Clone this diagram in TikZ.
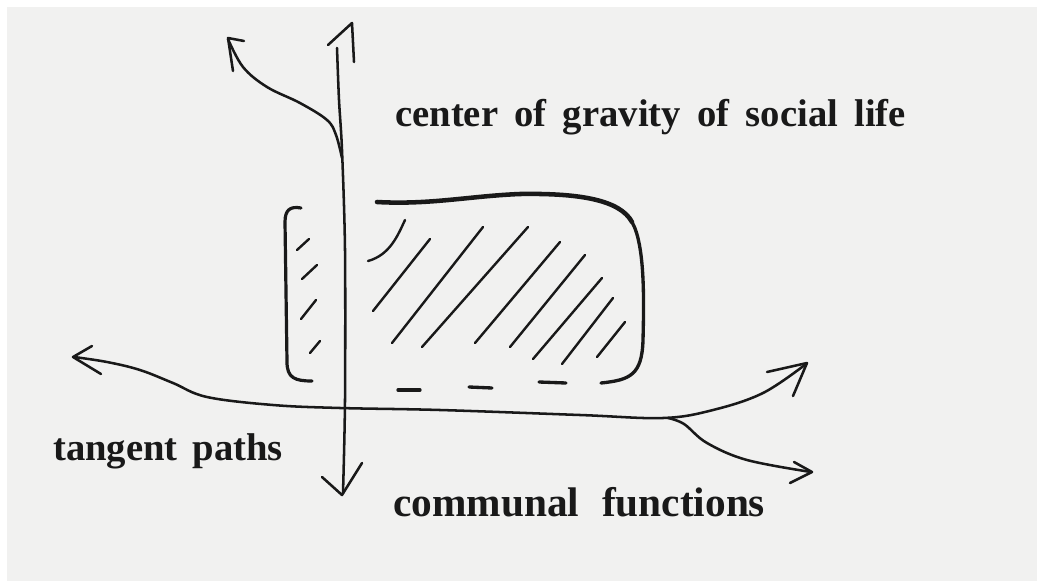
\documentclass[tikz,border=0pt]{standalone}
\usepackage{fontspec}
\setmainfont{Liberation Serif}
\definecolor{bg}{RGB}{241,241,240}
\definecolor{ink}{RGB}{25,25,25}
\begin{document}
\begin{tikzpicture}[x=0.75pt,y=-0.75pt,line cap=round,line join=round,
  pen/.style={draw=ink,line width=1.9pt},
  heavypen/.style={draw=ink,line width=3.4pt},
  hatch/.style={draw=ink,line width=1.8pt},
  lbl/.style={inner sep=0pt,anchor=base west,text=ink,font=\fontsize{29}{32}\selectfont\bfseries}]
\fill[white] (0,0) rectangle (1037,581);
\fill[bg] (7,7) rectangle (1037,581);
\useasboundingbox (0,0) rectangle (1037,581);

% vertical axis
\draw[pen] plot[smooth,tension=0.5] coordinates {(337,48) (339,100) (342,150) (345,250) (345,400) (343,493)};
\draw[pen] (328,45) -- (352,23) -- (354,62);
\draw[pen] (322,477) -- (342,495) -- (362,463);
% upper-left branch
\draw[pen] plot[smooth,tension=0.6] coordinates {(342,158) (336,135) (327,120) (300,103) (267,87) (243,67) (228,39)};
\draw[pen] (244,41) -- (228,38) -- (233,71);

% horizontal axis
\draw[pen] plot[smooth,tension=0.6] coordinates {(74,357) (107,362) (140,370) (173,383) (207,397) (273,405) (340,408) (440,410) (580,415) (663,418) (713,410) (763,393) (806,364)};
\draw[pen] (92,346) -- (73,357) -- (101,374);
\draw[pen] (767,372) -- (807,363) -- (793,396);
% lower-right branch
\draw[pen] plot[smooth,tension=0.6] coordinates {(668,418) (684,424) (707,443) (747,460) (811,472)};
\draw[pen] (794,462) -- (812,472) -- (790,483);

% left bracket
\draw[pen,line width=2.4pt] (301,208) .. controls (290,206) and (285,210) .. (285,222) -- (287,362) .. controls (287,378) and (295,381) .. (312,381);
\draw[hatch] (297,250) -- (309,239);
\draw[hatch] (302,279) -- (317,265);
\draw[hatch] (301,319) -- (316,300);
\draw[hatch] (310,353) -- (320,341);

% main box outline
\draw[heavypen] (377,202) .. controls (430,205) and (470,196) .. (520,194) .. controls (580,193) and (620,200) .. (632,222);
\draw[pen,line width=2.5pt] (632,222) .. controls (645,245) and (644,300) .. (643,340) .. controls (642,375) and (630,380) .. (601,383);
\draw[pen,line width=2.5pt] (398,390) -- (420,390);
\draw[pen,line width=2.5pt] (469,387) -- (492,388);
\draw[pen,line width=2.5pt] (539,382) -- (566,383);

% hatching
\draw[hatch] (368,261) .. controls (390,255) and (398,235) .. (405,220);
\draw[hatch] (373,311) -- (430,239);
\draw[hatch] (392,343) -- (483,227);
\draw[hatch] (422,347) -- (528,227);
\draw[hatch] (475,343) -- (560,242);
\draw[hatch] (510,347) -- (585,255);
\draw[hatch] (533,359) -- (602,278);
\draw[hatch] (562,364) -- (613,298);
\draw[hatch] (597,357) -- (625,322);

% labels
\node[lbl] (top) at (395,127) {center\hspace{0.42em}of\hspace{0.42em}gravity\hspace{0.42em}of\hspace{0.42em}social\hspace{0.42em}life};
\node[lbl] (tp) at (53,460) {tangent\hspace{0.38em}paths};
\node[lbl,font=\fontsize{31}{34}\selectfont\bfseries] (cf) at (393,516) {communal\hspace{0.55em}functions};
\end{tikzpicture}
\end{document}
